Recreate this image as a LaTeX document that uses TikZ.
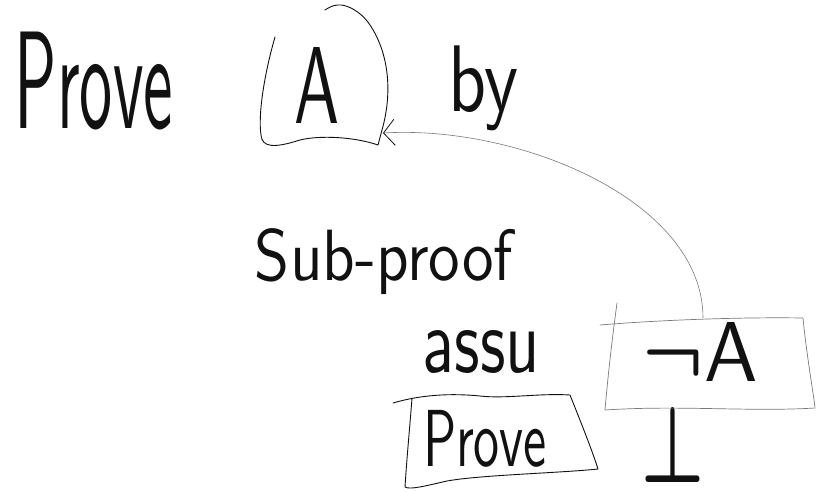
\documentclass[tikz,border=0pt]{standalone}
\usepackage{graphicx}
\usepackage{amsmath,amssymb}
\usepackage{tikz}
\usetikzlibrary{arrows.meta,positioning,calc}
\definecolor{ink}{HTML}{111111}
\definecolor{pencil}{HTML}{7A7A7A}
\tikzset{
  handtext/.style={inner sep=0pt,outer sep=0pt,text=ink,font=\sffamily},
  handbox/.style={draw=ink,line width=0.9pt,line cap=round,line join=round},
  softbox/.style={draw=pencil,line width=0.7pt,line cap=round,line join=round},
  ghostbox/.style={rectangle,inner sep=0pt,outer sep=0pt},
  handarr/.style={-{Straight Barb[length=11pt,width=26pt,line width=0.8pt,color=ink]},
    line width=0.6pt,color=pencil},
}
% fit a handwritten word into w x h
\newcommand{\hw}[3]{\resizebox*{#1pt}{#2pt}{#3}}

\begin{document}
\begin{tikzpicture}[x=1pt,y=-1pt]
  \useasboundingbox (0,0) rectangle (816,492);

  % top line: Prove A by
  \node[handtext] (prove) at (94,81) {\hw{158}{98}{Prove}};
  \node[handtext] (A) at (317.5,85) {\hw{45}{76}{A}};
  \node[handtext] (by) at (483,88) {\hw{70}{85}{by}};
  \node[ghostbox,minimum width=127pt,minimum height=141pt] (Abox) at (324.5,75.5) {};

  % sub-proof part
  \node[handtext] (sub) at (384,261.5) {\hw{258}{66}{Sub-proof}};
  \node[handtext] (assu) at (481.5,351.5) {\hw{117}{43}{assu}};
  \node[handtext] (negA) at (700,352) {\hw{115}{59}{$\boldsymbol{\neg}$A}};
  \node[ghostbox,minimum width=210pt,minimum height=92pt] (negAbox) at (710,364) {};
  \node[handtext] (prove2) at (485,438.5) {\hw{124}{57}{Prove}};
  \node[handtext] (bot) at (673.5,444.5) {\hw{63}{75}{$\boldsymbol{\bot}$}};

  % box round A
  \draw[handbox] (275,37) .. controls (264,75) and (258,115) .. (261,135)
    .. controls (262,148) and (275,148) .. (300,140)
    .. controls (320,135) and (355,137) .. (378,145) -- (382,130)
    .. controls (392,95) and (390,55) .. (370,25)
    .. controls (360,10) and (345,4) .. (338,5)
    .. controls (333,5) and (328,8) .. (325,10);

  % box round not A
  \draw[softbox] (600,325) .. controls (660,320) and (740,317) .. (803,318)
    .. controls (806,350) and (812,385) .. (815,407);
  \draw[softbox] (617,303) .. controls (612,340) and (608,375) .. (605,410)
    .. controls (680,405) and (750,412) .. (815,408);

  % box round Prove
  \draw[handbox] (393,403) .. controls (420,395) and (450,393) .. (480,396)
    .. controls (505,399) and (540,393) .. (570,395)
    .. controls (580,420) and (592,450) .. (598,469)
    .. controls (560,473) and (480,475) .. (447,481)
    .. controls (425,486) and (410,490) .. (405,487)
    .. controls (407,455) and (410,425) .. (412,398);

  % back to A
  \draw[handarr] ([xshift=-7pt]negAbox.north) .. controls +(0,-117) and +(137,-8) ..
    ([xshift=-5pt,yshift=13pt]Abox.south east);
\end{tikzpicture}
\end{document}
